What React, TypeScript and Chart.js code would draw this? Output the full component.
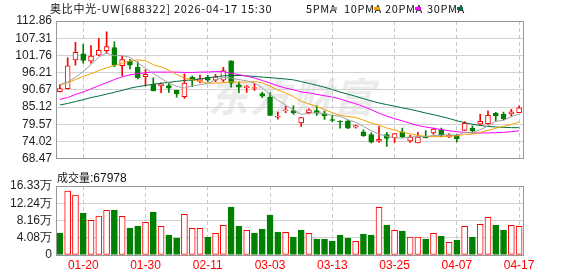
import React, { useEffect, useRef } from "react";
import { Chart, registerables } from "chart.js";
Chart.register(...registerables);

const dates = ["01-15","01-16","01-19","01-20","01-21","01-22","01-23","01-26","01-27","01-28","01-29","01-30","02-02","02-03","02-04","02-05","02-06","02-09","02-10","02-11","02-12","02-13","02-24","02-25","02-26","02-27","03-02","03-03","03-04","03-05","03-06","03-09","03-10","03-11","03-12","03-13","03-16","03-17","03-18","03-19","03-20","03-23","03-24","03-25","03-26","03-27","03-30","03-31","04-01","04-02","04-03","04-07","04-08","04-09","04-10","04-13","04-14","04-15","04-16","04-17"];
const xTickLabels = ["01-20","01-30","02-11","03-03","03-13","03-25","04-07","04-17"];

const openP = [90.1,91.03,100.3,102.25,99.88,101.84,103.28,104.31,98.44,99.88,
  97.93,94.94,92.47,91.95,92.06,90.51,88.45,94.73,93.5,94.73,
  93.81,93.81,99.99,92.26,91.33,91.13,89.48,88.35,81.86,83.92,
  84.02,80.01,83.3,84.02,83.0,81.14,80.63,80.63,78.67,77.12,
  76.3,74.14,76.3,75.17,77.12,74.24,73.62,75.6,76.81,77.84,
  75.48,76.0,77.64,78.36,79.6,79.8,83.1,82.79,82.89,83.3];
const highP = [92.4,101.02,105.96,105.34,104.93,107.2,109.36,106.17,101.53,100.5,
  99.68,97.21,94.53,92.98,92.88,90.6,95.87,95.1,95.45,95.35,
  95.66,97.93,100.0,93.29,92.06,92.77,90.0,89.69,83.51,85.36,
  85.54,81.8,84.54,85.57,83.82,82.48,80.7,80.93,79.3,77.84,
  76.81,78.87,77.02,76.7,78.36,76.09,77.02,77.53,78.36,78.36,
  76.6,76.3,80.42,79.08,82.79,83.92,83.4,83.51,84.44,85.57];
const lowP = [90.0,90.9,98.65,99.27,99.27,101.7,102.5,98.13,95.25,97.41,
  94.22,91.95,90.3,89.79,89.89,88.35,87.94,91.7,92.88,93.3,
  93.29,93.29,91.54,89.69,89.89,90.51,88.14,82.4,81.24,83.3,
  82.79,78.88,82.89,82.48,81.14,80.42,78.36,78.15,78.36,75.68,
  73.62,73.72,72.49,73.72,75.27,73.72,73.6,75.2,76.3,75.48,
  75.27,73.93,77.6,76.81,79.39,79.6,80.63,81.0,82.17,83.3];
const closeP = [91.13,98.44,102.77,100.19,101.53,103.39,104.62,98.65,100.4,98.65,
  94.63,95.66,90.31,92.57,91.23,89.38,92.88,93.7,94.22,93.81,
  94.84,96.9,92.8,91.54,91.75,91.44,88.66,82.48,82.17,84.23,
  83.3,81.76,84.23,83.2,82.38,80.83,80.32,78.36,79.18,75.89,
  73.83,74.76,75.07,76.61,75.48,75.48,75.48,75.27,78.05,76.09,
  76.09,74.96,79.9,77.54,80.52,82.48,82.27,81.35,83.61,84.85];

const ma5 = [92.4,93.2,94.7,96.6,98.81,101.26,102.5,101.68,101.72,101.14,
  99.39,97.6,95.93,94.36,92.88,91.83,91.27,91.95,92.28,92.8,
  93.89,94.69,94.52,93.98,93.57,92.89,91.24,89.17,87.3,85.8,
  84.17,82.79,83.14,83.34,82.97,82.48,82.19,81.02,80.21,78.92,
  77.52,76.4,75.75,75.23,75.15,75.48,75.62,75.66,75.95,76.07,
  76.2,76.09,77.02,76.92,77.8,79.08,80.54,80.83,82.05,82.91];
const ma10 = [92.2,93.0,94.0,95.0,95.9,96.9,97.8,98.5,99.3,99.98,
  100.33,100.05,98.8,98.04,97.01,95.61,94.44,93.94,93.32,92.84,
  92.86,92.98,93.23,93.13,93.18,93.38,92.96,91.84,90.64,89.68,
  88.52,87.01,86.16,85.32,84.39,83.32,82.49,82.08,81.78,80.95,
  80.0,79.3,78.38,77.72,77.03,76.5,76.01,75.71,75.59,75.61,
  75.84,75.86,76.34,76.43,76.94,77.64,78.32,78.93,79.48,80.36];
const ma20 = [87.6,88.2,89.2,90.0,91.0,92.0,93.0,94.0,94.9,95.5,
  95.9,96.2,96.4,96.4,96.4,96.4,96.3,96.3,96.4,96.41,
  96.59,96.52,96.02,95.59,95.1,94.5,93.7,92.9,91.98,91.26,
  90.7,90.0,89.7,89.23,88.79,88.36,87.73,86.96,86.21,85.32,
  84.27,83.16,82.2,81.4,80.7,79.9,79.2,78.7,78.3,77.9,
  77.5,77.2,77.0,76.8,76.8,76.8,76.9,77.0,77.2,77.5];
const ma30 = [85.8,86.3,86.9,87.5,88.2,88.7,89.3,89.9,90.5,91.2,
  91.7,92.1,92.5,92.8,93.1,93.4,93.7,93.9,94.2,94.5,
  94.9,95.2,95.3,95.3,95.2,95.0,94.8,94.6,94.4,94.17,
  93.9,93.35,92.74,92.17,91.53,90.78,89.97,89.29,88.59,87.83,
  87.13,86.44,85.93,85.4,84.87,84.41,83.83,83.21,82.68,82.08,
  81.46,80.73,80.1,79.6,79.2,78.9,78.7,78.6,78.5,78.5];

// volume in 万
const volume = [5.2,15.14,14.2,9.94,8.2,9.23,10.57,10.65,9.15,6.39,
  6.86,7.73,10.17,6.78,4.73,4.02,9.62,6.31,6.31,4.26,
  5.13,7.02,11.36,6.86,5.84,5.2,6.15,9.46,5.44,5.36,
  4.26,5.91,5.13,3.79,3.79,3.31,4.73,4.02,3.23,4.97,
  4.73,11.28,7.1,5.84,5.68,4.26,4.26,3.79,5.13,4.5,
  3.0,3.55,6.78,4.26,7.26,8.91,7.1,5.91,7.02,6.8];
const volumeUp = [0,1,1,0,1,1,1,0,1,0,
  0,1,0,1,0,0,1,1,1,0,
  1,1,0,0,1,0,0,0,0,1,
  0,0,1,0,0,0,0,0,1,0,
  0,1,0,1,0,1,1,0,1,0,
  1,0,1,0,1,1,0,0,1,1];

const priceTicks = [68.47,74.02,79.57,85.12,90.67,96.21,101.76,107.31,112.86];
const volTicks = [0,4.08,8.16,12.24,16.33];
const volTickLabels = ["0","4.08万","8.16万","12.24万","16.33万"];

const RED = "#ff0000";
const GREEN = "#008000";
const GRID = "#d2d2d2";
const FRAME = "#999999";

const framePlugin = {
  id: "frame",
  afterDraw(chart: any) {
    const { ctx, chartArea } = chart;
    const l = Math.floor(chartArea.left) + 0.5;
    const t = Math.floor(chartArea.top) + 0.5;
    const r = Math.floor(chartArea.right) + 0.5;
    const b = Math.floor(chartArea.bottom) + 0.5;
    ctx.save();
    ctx.strokeStyle = FRAME;
    ctx.lineWidth = 1;
    ctx.strokeRect(l, t, r - l, b - t);
    ctx.restore();
  },
};

const isShown = (i: number) => xTickLabels.includes(dates[i]);
const tickFont = { family: "'Liberation Sans', Arial, sans-serif", size: 12 };

export default function App() {
  const mainRef = useRef<HTMLCanvasElement>(null);
  const volRef = useRef<HTMLCanvasElement>(null);

  useEffect(() => {
    const up = closeP.map((c, i) => c >= openP[i]);
    const bodies = openP.map((o, i) => [Math.min(o, closeP[i]), Math.max(o, closeP[i])]);
    const wicks = lowP.map((l, i) => [l, highP[i]]);
    const lineDs = (label: string, data: number[], color: string) => ({
      type: "line" as const,
      label,
      data,
      borderColor: color,
      borderWidth: 1,
      pointRadius: 0,
      tension: 0,
      order: 0,
    });

    const main = new Chart(mainRef.current!, {
      type: "bar",
      data: {
        labels: dates,
        datasets: [
          lineDs("5PMA", ma5, "#a0a0a0"),
          lineDs("10PMA", ma10, "#f5a000"),
          lineDs("20PMA", ma20, "#ff00ff"),
          lineDs("30PMA", ma30, "#00703c"),
          {
            type: "bar",
            label: "body",
            data: bodies as any,
            backgroundColor: up.map((u) => (u ? "#ffffff" : GREEN)),
            borderColor: up.map((u) => (u ? RED : GREEN)),
            borderWidth: 1,
            borderSkipped: false,
            barThickness: 5,
            grouped: false,
            order: 1,
          } as any,
          {
            type: "bar",
            label: "wick",
            data: wicks as any,
            backgroundColor: up.map((u) => (u ? RED : GREEN)),
            borderWidth: 0,
            barThickness: 1,
            grouped: false,
            order: 2,
          } as any,
        ],
      },
      options: {
        responsive: false,
        animation: false,
        layout: { padding: { left: 0, right: 55, top: 21, bottom: 5 } },
        plugins: { legend: { display: false }, tooltip: { enabled: false } },
        scales: {
          x: {
            offset: true,
            grid: {
              offset: false,
              drawTicks: false,
              color: (ctx: any) => (isShown(ctx.index) ? "#c8c8c8" : "rgba(0,0,0,0)"),
            },
            border: { display: false, dash: [4, 3] },
            ticks: { display: false },
            afterFit: (s: any) => { s.height = 0; },
          } as any,
          y: {
            min: priceTicks[0],
            max: priceTicks[priceTicks.length - 1],
            afterBuildTicks: (s: any) => { s.ticks = priceTicks.map((v) => ({ value: v })); },
            grid: { color: GRID, drawTicks: false },
            border: { display: false },
            ticks: {
              autoSkip: false,
              font: tickFont,
              color: "#222",
              padding: 4,
              callback: (_v: any, i: number) => priceTicks[i].toFixed(2),
            },
            afterFit: (s: any) => { s.width = 56; },
          } as any,
        },
      },
      plugins: [framePlugin],
    });

    const vol = new Chart(volRef.current!, {
      type: "bar",
      data: {
        labels: dates,
        datasets: [
          {
            label: "成交量",
            data: volume,
            backgroundColor: volumeUp.map((u) => (u ? "#ffffff" : GREEN)),
            borderColor: volumeUp.map((u) => (u ? RED : GREEN)),
            borderWidth: 1,
            borderSkipped: false,
            barThickness: 6,
          } as any,
        ],
      },
      options: {
        responsive: false,
        animation: false,
        layout: { padding: { left: 0, right: 55, top: 21, bottom: 0 } },
        plugins: { legend: { display: false }, tooltip: { enabled: false } },
        scales: {
          x: {
            offset: true,
            grid: {
              offset: false,
              drawTicks: false,
              color: (ctx: any) => (isShown(ctx.index) ? "#c8c8c8" : "rgba(0,0,0,0)"),
            },
            border: { display: false, dash: [4, 3] },
            ticks: {
              autoSkip: false,
              maxRotation: 0,
              minRotation: 0,
              color: RED,
              font: tickFont,
              padding: 3,
              callback: (_v: any, i: number) => (isShown(i) ? dates[i] : ""),
            },
            afterFit: (s: any) => { s.height = 21; },
          } as any,
          y: {
            min: 0,
            max: volTicks[volTicks.length - 1],
            afterBuildTicks: (s: any) => { s.ticks = volTicks.map((v) => ({ value: v })); },
            grid: { color: GRID, drawTicks: false },
            border: { display: false },
            ticks: {
              autoSkip: false,
              font: tickFont,
              color: "#222",
              padding: 4,
              callback: (_v: any, i: number) => volTickLabels[i],
            },
            afterFit: (s: any) => { s.width = 56; },
          } as any,
        },
      },
      plugins: [framePlugin],
    });

    return () => {
      main.destroy();
      vol.destroy();
    };
  }, []);

  const cjk = "'Noto Sans CJK SC', sans-serif";
  const legendItem = (text: string, color: string, left: number, sq: number) => (
    <>
      <span style={{ position: "absolute", left, top: 1, fontSize: 11, lineHeight: "14px", fontFamily: cjk, color: "#111", letterSpacing: 0.6, whiteSpace: "nowrap" }}>{text}</span>
      <span style={{ position: "absolute", left: sq, top: 7, width: 6, height: 3, background: color }} />
    </>
  );

  return (
    <div style={{ position: "absolute", left: 0, top: 0, width: 578, height: 276, background: "#fff", overflow: "hidden" }}>
      <div style={{ position: "absolute", left: 208, top: 66, fontFamily: cjk, fontSize: 40, fontWeight: 700, fontStyle: "italic", color: "#ebebeb", letterSpacing: 2, whiteSpace: "nowrap" }}>东方财富</div>
      <div style={{ position: "absolute", left: 0, top: 0, width: 578, height: 170 }}>
        <canvas ref={mainRef} width={578} height={170} />
      </div>
      <div style={{ position: "absolute", left: 0, top: 165, width: 578, height: 111 }}>
        <canvas ref={volRef} width={578} height={111} />
      </div>
      <span style={{ position: "absolute", left: 50, top: 1, fontSize: 11, lineHeight: "14px", fontFamily: cjk, color: "#111", letterSpacing: 0.75, whiteSpace: "nowrap" }}>奥比中光-UW[688322] 2026-04-17 15:30</span>
      {legendItem("5PMA", "#a0a0a0", 306, 331)}
      {legendItem("10PMA", "#f5a000", 344, 374)}
      {legendItem("20PMA", "#ff00ff", 385, 415)}
      {legendItem("30PMA", "#00703c", 427, 457)}
      <span style={{ position: "absolute", left: 57, top: 170, fontSize: 11, lineHeight: "14px", fontFamily: cjk, color: "#111", whiteSpace: "nowrap" }}>成交量<span style={{ fontFamily: "'Liberation Sans', Arial, sans-serif", fontSize: 12 }}>:67978</span></span>
    </div>
  );
}
